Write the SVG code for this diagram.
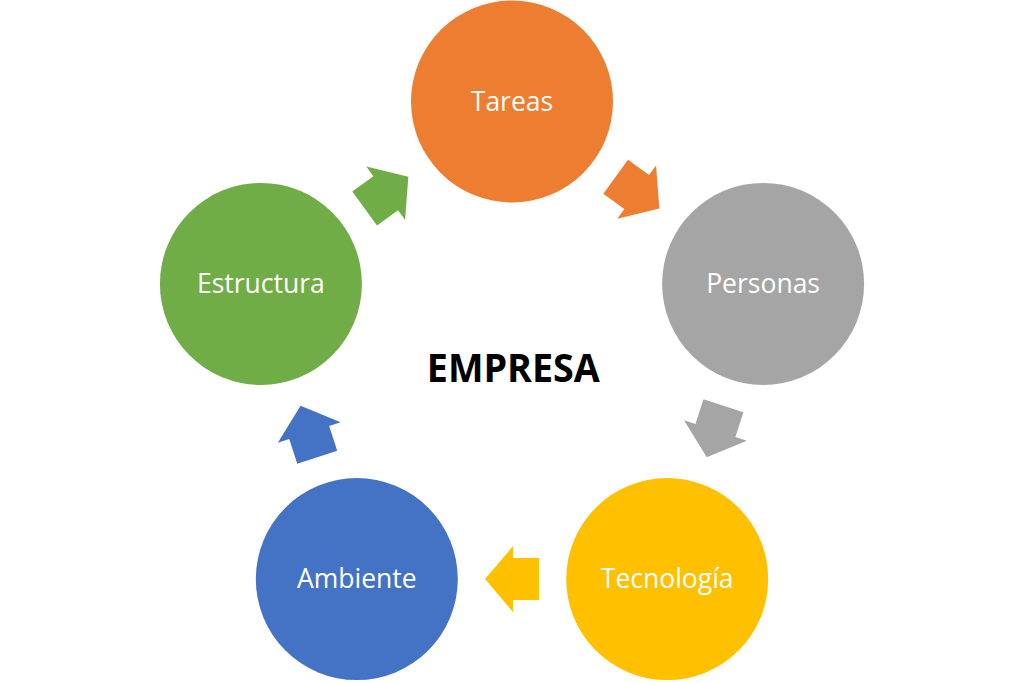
<svg xmlns="http://www.w3.org/2000/svg" width="1024" height="683" viewBox="0 0 1024 683">
  <style>
    .lbl { font-family: "Open Sans", "Liberation Sans", sans-serif; font-size: 26.5px; fill: #ffffff; text-anchor: middle; }
    .title { font-family: "Open Sans", "Liberation Sans", sans-serif; font-size: 40px; font-weight: bold; fill: #000000; text-anchor: middle; }
  </style>
  <defs>
    <path id="arr" d="M-27,-21 L-1,-21 L-1,-33 L27,0 L-1,33 L-1,21 L-27,21 Z"/>
  </defs>
  <rect x="0" y="0" width="1024" height="683" fill="#ffffff"/>
  <g id="connectors">
    <use href="#arr" fill="#ED7D31" transform="translate(637.5,192.7) rotate(36)"/>
    <use href="#arr" fill="#A5A5A5" transform="translate(715.1,431.5) rotate(108)"/>
    <use href="#arr" fill="#FFC000" transform="translate(512,579.1) rotate(180)"/>
    <use href="#arr" fill="#4472C4" transform="translate(308.9,431.5) rotate(252)"/>
    <use href="#arr" fill="#70AD47" transform="translate(386.5,192.7) rotate(324)"/>
  </g>
  <g id="tareas">
    <circle cx="512" cy="101.5" r="101" fill="#ED7D31"/>
    <text class="lbl" x="512" y="111">Tareas</text>
  </g>
  <g id="personas">
    <circle cx="763.1" cy="283.9" r="101" fill="#A5A5A5"/>
    <text class="lbl" x="763.1" y="293">Personas</text>
  </g>
  <g id="tecnologia">
    <circle cx="667.2" cy="579.1" r="101" fill="#FFC000"/>
    <text class="lbl" x="667.2" y="588">Tecnología</text>
  </g>
  <g id="ambiente">
    <circle cx="356.8" cy="579.1" r="101" fill="#4472C4"/>
    <text class="lbl" x="356.8" y="588">Ambiente</text>
  </g>
  <g id="estructura">
    <circle cx="260.9" cy="283.9" r="101" fill="#70AD47"/>
    <text class="lbl" x="260.9" y="293">Estructura</text>
  </g>
  <g id="empresa">
    <text class="title" x="513.3" y="381.7" textLength="173" lengthAdjust="spacingAndGlyphs">EMPRESA</text>
  </g>
</svg>
